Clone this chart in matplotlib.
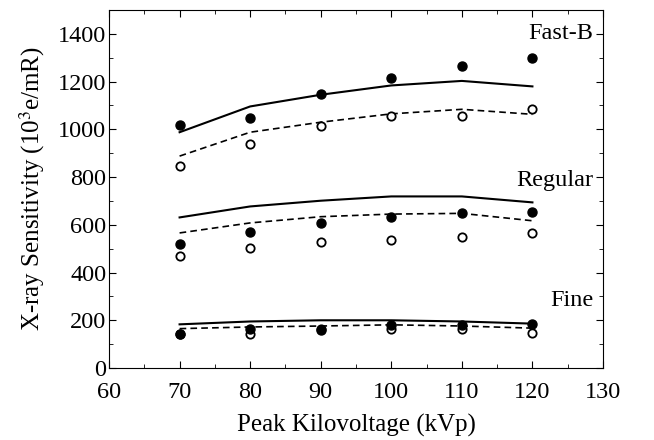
import matplotlib
matplotlib.use('Agg')
import matplotlib.pyplot as plt
from matplotlib.ticker import MultipleLocator

plt.rcParams['font.family'] = 'Liberation Serif'
plt.rcParams['mathtext.fontset'] = 'stix'

kvp = [70, 80, 90, 100, 110, 120]

# Fast-B
fastb_meas_filled = [1019, 1049, 1148, 1217, 1266, 1297]
fastb_meas_open = [848, 937, 1016, 1054, 1058, 1084]
fastb_calc_solid = [988, 1096, 1145, 1184, 1203, 1180]
fastb_calc_dashed = [888, 988, 1030, 1065, 1084, 1063]

# Regular
regular_meas_filled = [519, 571, 606, 634, 650, 655]
regular_meas_open = [470, 501, 529, 536, 551, 564]
regular_calc_solid = [631, 677, 701, 719, 719, 694]
regular_calc_dashed = [566, 608, 634, 645, 648, 617]

# Fine
fine_meas_filled = [141, 162, 160, 181, 181, 183]
fine_meas_open = [143, 144, 165, 162, 162, 146]
fine_calc_solid = [183, 195, 200, 200, 195, 186]
fine_calc_dashed = [165, 172, 176, 181, 176, 167]

fig = plt.figure(figsize=(6.54, 4.4), dpi=100)
ax = fig.add_axes([0.1667, 0.1636, 0.7553, 0.8136])

groups = [
    (fastb_meas_filled, fastb_meas_open, fastb_calc_solid, fastb_calc_dashed),
    (regular_meas_filled, regular_meas_open, regular_calc_solid, regular_calc_dashed),
    (fine_meas_filled, fine_meas_open, fine_calc_solid, fine_calc_dashed),
]
for filled, opened, solid, dashed in groups:
    ax.plot(kvp, solid, color='black', lw=1.5, ls='-')
    ax.plot(kvp, dashed, color='black', lw=1.2, ls=(0, (4, 2.5)))
    ax.plot(kvp, opened, 'o', ms=6, mfc='white', mec='black', mew=1.3)
    ax.plot(kvp, filled, 'o', ms=6.5, mfc='black', mec='black')

ax.text(128.6, 1400, 'Fast-B', ha='right', va='center', fontsize=17.5)
ax.text(128.6, 785, 'Regular', ha='right', va='center', fontsize=17.5)
ax.text(128.6, 281, 'Fine', ha='right', va='center', fontsize=17.5)

ax.set_xlim(60, 130)
ax.set_ylim(0, 1500)
ax.set_yticks([0, 200, 400, 600, 800, 1000, 1200, 1400])
ax.xaxis.set_major_locator(MultipleLocator(10))
ax.xaxis.set_minor_locator(MultipleLocator(5))
ax.yaxis.set_minor_locator(MultipleLocator(100))
ax.tick_params(which='both', direction='in', top=True, right=True, labelsize=17.5)
ax.tick_params(which='major', length=5)
ax.tick_params(which='minor', length=3)
ax.tick_params(axis='x', pad=10)
ax.tick_params(axis='y', pad=2)

ax.set_xlabel('Peak Kilovoltage (kVp)', fontsize=18, labelpad=8)
ax.set_ylabel(r'X-ray Sensitivity (10$^3$e/mR)', fontsize=18, labelpad=8)

fig.savefig('out.png', dpi=100)
